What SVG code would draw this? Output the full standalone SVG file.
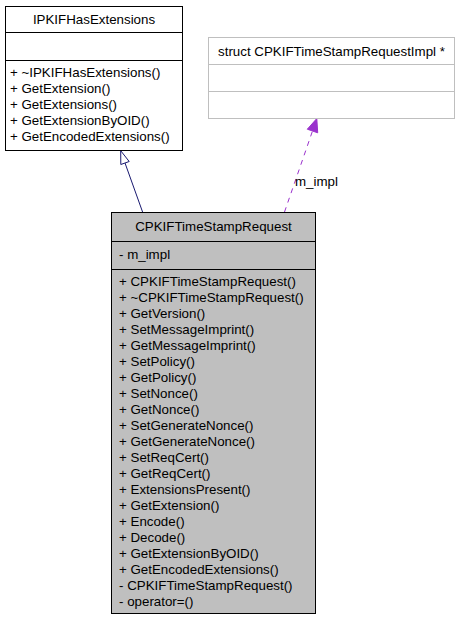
<svg xmlns="http://www.w3.org/2000/svg" width="459" height="619" viewBox="0 0 459 619">
<style>
text{font-family:"Liberation Sans",Arial,sans-serif;font-size:13.33px;fill:#000}
.c{text-anchor:middle}
.box{stroke:#000;stroke-width:1}
.gb{fill:#fff;stroke:#bfbfbf;stroke-width:1}
.inh{fill:none;stroke:#191970;stroke-width:1}
.use{fill:none;stroke:#9a32cd;stroke-width:1;stroke-dasharray:5,5}
</style>
<rect width="459" height="619" fill="#fff"/>
<g id="connectors">
<path class="inh" d="M143.3,214 L125,163"/>
<polygon points="120.7,150.7 129.2,161.5 120.8,164.5" fill="#fff" stroke="#191970" stroke-width="1"/>
<path class="use" d="M284.5,212 L312.5,131"/>
<polygon points="316.8,118.5 317.7,132.8 307.3,129.2" fill="#9a32cd" stroke="#9a32cd" stroke-width="1"/>
<text x="295" y="186">m_impl</text>
</g>
<g id="IPKIFHasExtensions">
<rect class="box" x="5.5" y="6.5" width="177" height="144" fill="#fff"/>
<line class="box" x1="5.5" y1="32.5" x2="182.5" y2="32.5"/>
<line class="box" x1="5.5" y1="60.5" x2="182.5" y2="60.5"/>
<text class="c" x="94" y="23.5">IPKIFHasExtensions</text>
<text x="10" y="77">+ ~IPKIFHasExtensions()</text>
<text x="10" y="93">+ GetExtension()</text>
<text x="10" y="109">+ GetExtensions()</text>
<text x="10" y="125">+ GetExtensionByOID()</text>
<text x="10" y="141">+ GetEncodedExtensions()</text>
</g>
<g id="CPKIFTimeStampRequestImpl">
<rect class="gb" x="208.5" y="37.5" width="246" height="81"/>
<line class="gb" x1="208.5" y1="64.5" x2="454.5" y2="64.5"/>
<line class="gb" x1="208.5" y1="91.5" x2="454.5" y2="91.5"/>
<text class="c" x="331.5" y="55.5">struct CPKIFTimeStampRequestImpl *</text>
</g>
<g id="CPKIFTimeStampRequest">
<rect class="box" x="111.5" y="212.5" width="204" height="401" fill="#bfbfbf"/>
<line class="box" x1="111.5" y1="241.5" x2="315.5" y2="241.5"/>
<line class="box" x1="111.5" y1="269.5" x2="315.5" y2="269.5"/>
<text class="c" x="213.5" y="231">CPKIFTimeStampRequest</text>
<text x="119" y="259">- m_impl</text>
<text x="119" y="285.6">+ CPKIFTimeStampRequest()</text>
<text x="119" y="301.6">+ ~CPKIFTimeStampRequest()</text>
<text x="119" y="317.6">+ GetVersion()</text>
<text x="119" y="333.6">+ SetMessageImprint()</text>
<text x="119" y="349.6">+ GetMessageImprint()</text>
<text x="119" y="365.6">+ SetPolicy()</text>
<text x="119" y="381.6">+ GetPolicy()</text>
<text x="119" y="397.6">+ SetNonce()</text>
<text x="119" y="413.6">+ GetNonce()</text>
<text x="119" y="429.6">+ SetGenerateNonce()</text>
<text x="119" y="445.6">+ GetGenerateNonce()</text>
<text x="119" y="461.6">+ SetReqCert()</text>
<text x="119" y="477.6">+ GetReqCert()</text>
<text x="119" y="493.6">+ ExtensionsPresent()</text>
<text x="119" y="509.6">+ GetExtension()</text>
<text x="119" y="525.6">+ Encode()</text>
<text x="119" y="541.6">+ Decode()</text>
<text x="119" y="557.6">+ GetExtensionByOID()</text>
<text x="119" y="573.6">+ GetEncodedExtensions()</text>
<text x="119" y="589.6">- CPKIFTimeStampRequest()</text>
<text x="119" y="605.6">- operator=()</text>
</g>
</svg>
